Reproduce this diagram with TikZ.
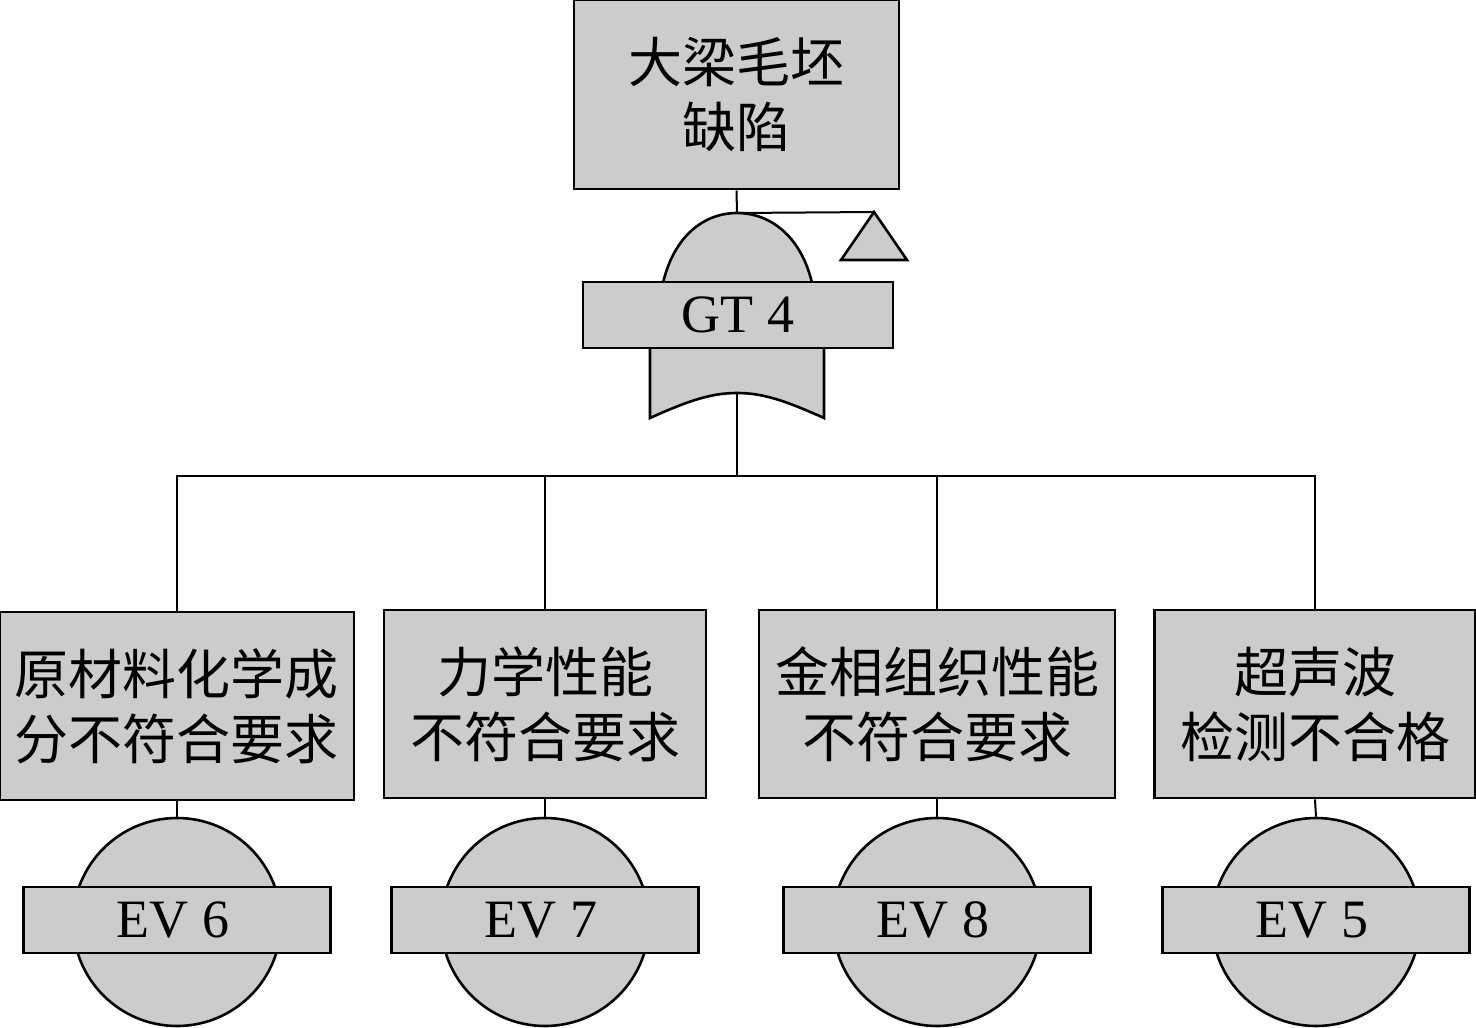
\documentclass[tikz,border=0pt]{standalone}
\usepackage{fontspec}
\setmainfont{Liberation Serif}
\newfontfamily\cjk{Noto Sans CJK SC}
\definecolor{gfill}{HTML}{CCCCCC}
\begin{document}
\begin{tikzpicture}[x=1pt,y=-1pt,
  box/.style={draw,line width=2.8pt,fill=gfill,rectangle,inner sep=0pt,align=center,
    font=\fontsize{54}{65}\selectfont\cjk},
  tag/.style={draw,line width=2.8pt,fill=gfill,rectangle,inner sep=0pt,
    minimum height=66pt,minimum width=307pt,font=\fontsize{54}{64}\selectfont},
  shp/.style={draw,line width=2.6pt,fill=gfill},
  wire/.style={draw,line width=2pt}]
\useasboundingbox (0,0) rectangle (1476,1028);
% top event
\node[box,minimum width=325pt,minimum height=189pt] (top) at (736.5,94.5) {大梁毛坯\\缺陷};
% OR gate body
\path[shp] (663,283) .. controls (674,236) and (704,213) .. (737,213) .. controls (770,213) and (801,236) .. (812,283);
\path[shp] (650,347) -- (650,418) .. controls (690,400) and (712,393) .. (737,393) .. controls (762,393) and (784,400) .. (824,418) -- (824,347);
\coordinate (gtop) at (737,213);
\coordinate (gbot) at (737,393);
\node[tag,minimum width=310pt] (gt) at (738,315) {GT 4};
% transfer triangle
\coordinate (tapex) at (874,212);
\path[shp,line join=miter] (tapex) -- (907,260) -- (841,260) -- cycle;
\draw[wire] (top.south) -- (gtop);
\draw[wire] (gtop) -- (tapex);
% basic events boxes
\node[box,minimum width=354pt,minimum height=188pt] (b1) at (177,706) {原材料化学成\\分不符合要求};
\node[box,minimum width=322pt,minimum height=188pt] (b2) at (545,704) {力学性能\\不符合要求};
\node[box,minimum width=356pt,minimum height=188pt] (b3) at (937,704) {金相组织性能\\不符合要求};
\node[box,minimum width=321pt,minimum height=188pt] (b4) at (1315,704) {超声波\\检测不合格};
% bus
\coordinate (bus) at (737,476);
\draw[wire] (gbot) -- (bus);
\draw[wire] (b1.north) |- (bus) -| (b4.north);
\draw[wire] (b2.north) -- (b2.north |- bus);
\draw[wire] (b3.north) -- (b3.north |- bus);
% circles
\foreach \i/\x/\lab in {1/177/EV 6,2/545/EV 7,3/937/EV 8,4/1316/EV 5}{
  \node[draw,line width=2.6pt,fill=gfill,circle,minimum size=208pt,inner sep=0pt] (c\i) at (\x,922) {};
  \draw[wire] (b\i.south) -- (c\i.north);
  \node[tag] (e\i) at (\x,920) {\lab\hspace*{8pt}};
}
\end{tikzpicture}
\end{document}
